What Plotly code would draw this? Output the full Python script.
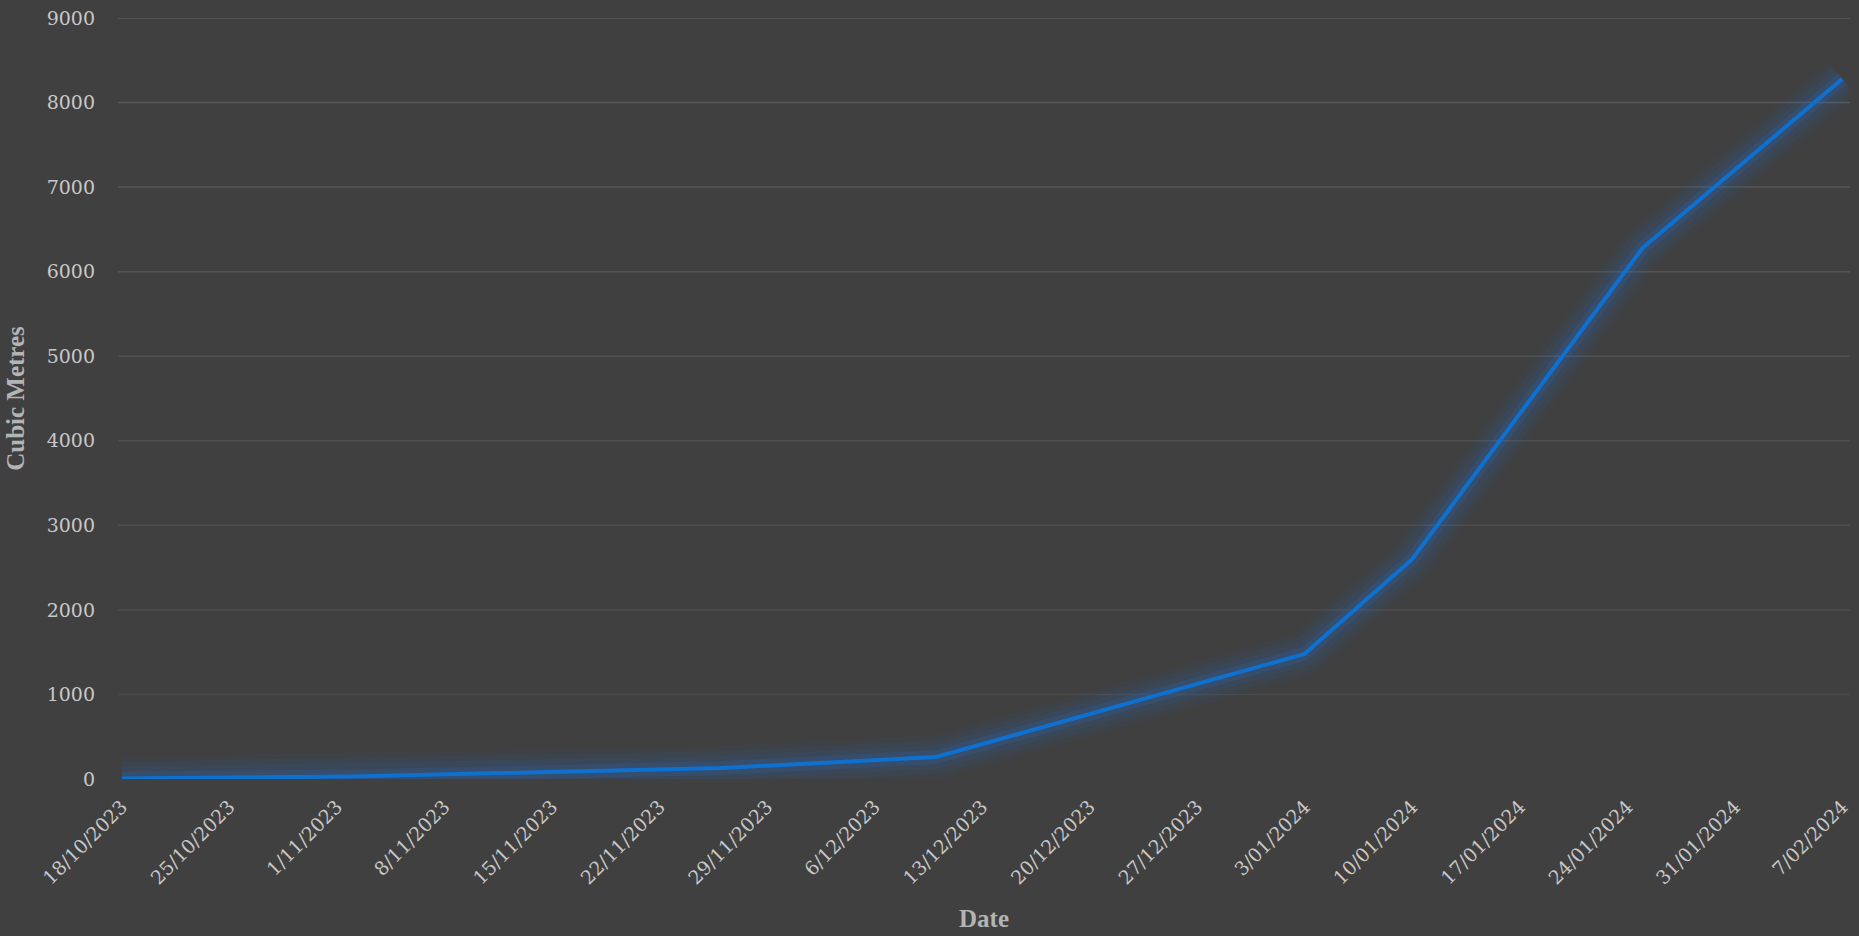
import plotly.graph_objects as go
import datetime as dt

dates = ["2023-10-18", "2023-11-02", "2023-11-26", "2023-12-10",
         "2024-01-03", "2024-01-10", "2024-01-25", "2024-02-07"]
volumes = [5, 30, 130, 260, 1480, 2600, 6280, 8280]

tick_start = dt.date(2023, 10, 18)
tick_dates = [tick_start + dt.timedelta(days=7 * i) for i in range(17)]
tick_vals = [d.isoformat() for d in tick_dates]
tick_text = [f"{d.day}/{d.month:02d}/{d.year}" for d in tick_dates]

y_ticks = [0, 1000, 2000, 3000, 4000, 5000, 6000, 7000, 8000, 9000]

fig = go.Figure()
# soft glow beneath the line
for w, a in [(44, 0.04), (34, 0.05), (24, 0.07), (14, 0.12)]:
    fig.add_trace(go.Scatter(x=dates, y=volumes, mode="lines",
                             line=dict(color=f"rgba(30,120,240,{a})", width=w),
                             hoverinfo="skip", showlegend=False))
fig.add_trace(go.Scatter(x=dates, y=volumes, mode="lines",
                         line=dict(color="#0e70cf", width=4),
                         showlegend=False))

# gridlines, slightly brighter toward the top
shapes = []
for v in y_ticks[1:]:
    t = v / 9000
    c = int(round(0x48 + (0x5a - 0x48) * t))
    shapes.append(dict(type="line", xref="paper", x0=0, x1=1, yref="y", y0=v, y1=v,
                       line=dict(color=f"rgb({c},{c},{c})", width=1.5), layer="below"))

tick_font = "DejaVu Serif, Liberation Serif, serif"
title_font = "Liberation Serif, DejaVu Serif, serif"
fig.update_layout(
    width=1859, height=936,
    paper_bgcolor="#404040", plot_bgcolor="#404040",
    margin=dict(l=118, r=7, t=14, b=157),
    font=dict(family=tick_font, color="#c8c8c8", size=19),
    showlegend=False,
    shapes=shapes,
)
fig.update_xaxes(
    type="date",
    range=["2023-10-17 18:00", "2024-02-07 12:00"],
    tickvals=tick_vals, ticktext=tick_text, tickangle=-45,
    showgrid=False, zeroline=False, showline=False,
    ticks="", ticklabelstandoff=12,
    tickfont=dict(family=tick_font, size=19, color="#c8c8c8"),
    title=dict(text="<b>Date</b>", font=dict(family=title_font, size=25, color="#b4b4b4"), standoff=22),
)
fig.update_yaxes(
    range=[0, 9000], tickvals=y_ticks,
    showgrid=False, zeroline=False, showline=False,
    ticks="", ticklabelstandoff=22,
    tickfont=dict(family=tick_font, size=19, color="#c8c8c8"),
    title=dict(text="<b>Cubic Metres</b>", font=dict(family=title_font, size=25, color="#b4b4b4"), standoff=14),
)

fig.write_html("out.html", config={"displayModeBar": False},
               post_script="document.body.style.margin='0';")
